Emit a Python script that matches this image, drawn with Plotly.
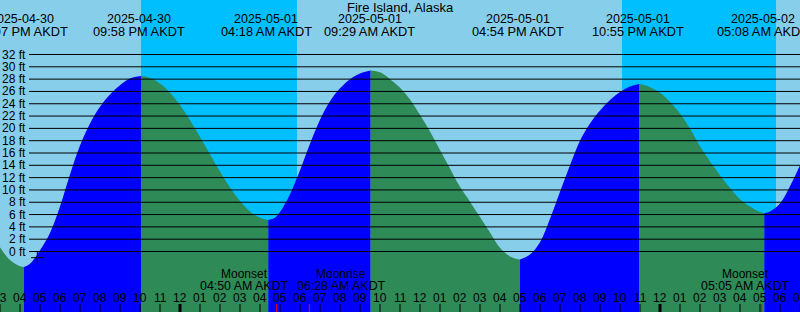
import pandas as pd
import plotly.graph_objects as go

W, H = 800, 312

# ---------------- data ----------------
station = "Fire Island, Alaska"
zone = "AKDT"

axis_start = "2025-04-30 15:00"
axis_end = "2025-05-02 07:00"

# labelled high / low tides
tide_event_times = ["2025-04-30 16:07", "2025-04-30 21:58", "2025-05-01 04:18",
                    "2025-05-01 09:29", "2025-05-01 16:54", "2025-05-01 22:55",
                    "2025-05-02 05:08"]

# tide curve (feet)
curve_times = [
    "2025-04-30 15:00", "2025-04-30 15:30", "2025-04-30 16:00", "2025-04-30 16:12",
    "2025-04-30 16:30", "2025-04-30 17:00", "2025-04-30 17:30", "2025-04-30 18:00",
    "2025-04-30 18:30", "2025-04-30 19:00", "2025-04-30 19:30", "2025-04-30 20:00",
    "2025-04-30 20:30", "2025-04-30 21:00", "2025-04-30 21:30", "2025-04-30 22:03",
    "2025-04-30 22:30", "2025-04-30 23:00", "2025-04-30 23:30", "2025-05-01 00:00",
    "2025-05-01 00:30", "2025-05-01 01:00", "2025-05-01 01:30", "2025-05-01 02:00",
    "2025-05-01 02:30", "2025-05-01 03:00", "2025-05-01 03:30", "2025-05-01 04:00",
    "2025-05-01 04:25",
    "2025-05-01 04:45", "2025-05-01 05:00", "2025-05-01 05:30", "2025-05-01 06:00",
    "2025-05-01 06:30", "2025-05-01 07:00", "2025-05-01 07:30", "2025-05-01 08:00",
    "2025-05-01 08:30", "2025-05-01 09:00", "2025-05-01 09:32",
    "2025-05-01 10:00", "2025-05-01 10:30", "2025-05-01 11:00", "2025-05-01 11:30",
    "2025-05-01 12:00", "2025-05-01 12:30", "2025-05-01 13:00", "2025-05-01 13:30",
    "2025-05-01 14:00", "2025-05-01 14:30", "2025-05-01 15:00", "2025-05-01 15:30",
    "2025-05-01 16:00", "2025-05-01 16:30", "2025-05-01 17:00",
    "2025-05-01 17:30", "2025-05-01 18:00", "2025-05-01 18:30", "2025-05-01 19:00",
    "2025-05-01 19:30", "2025-05-01 20:00", "2025-05-01 20:30", "2025-05-01 21:00",
    "2025-05-01 21:30", "2025-05-01 22:00", "2025-05-01 22:30", "2025-05-01 22:58",
    "2025-05-01 23:30", "2025-05-02 00:00", "2025-05-02 00:30", "2025-05-02 01:00",
    "2025-05-02 01:30", "2025-05-02 02:00", "2025-05-02 02:30", "2025-05-02 03:00",
    "2025-05-02 03:30", "2025-05-02 04:00", "2025-05-02 04:30", "2025-05-02 05:00",
    "2025-05-02 05:13",
    "2025-05-02 05:30", "2025-05-02 06:00", "2025-05-02 06:30", "2025-05-02 07:00",
]
curve_ft = [
    0.7, -1.4, -2.4, -2.5,
    -2.0, 0.2, 3.0, 7.3,
    12.5, 17.2, 20.8, 23.5,
    25.5, 27.0, 28.1, 28.5,
    28.2, 27.3, 25.8, 23.8,
    21.3, 18.6, 15.8, 13.0,
    10.4, 8.2, 6.5, 5.5,
    5.1,
    5.5, 6.4, 9.3, 13.2,
    17.5, 21.4, 24.4, 26.5,
    28.0, 28.9, 29.4,
    29.1, 28.0, 26.6, 24.7,
    22.2, 19.5, 16.5, 13.5,
    10.5, 8.1, 5.6, 3.1,
    0.6, -0.8, -1.3,
    -0.5, 1.5, 5.3, 9.7,
    14.0, 18.0, 20.8, 22.9,
    24.6, 25.9, 26.8, 27.2,
    26.7, 25.8, 24.3, 22.4,
    20.0, 17.1, 14.6, 12.4,
    10.3, 8.5, 7.3, 6.4,
    6.2,
    6.5, 7.8, 10.6, 14.0,
]

# where the drawn curve turns (fill switches flood/ebb colour)
turn_times = ["2025-04-30 16:12", "2025-04-30 22:03", "2025-05-01 04:25",
              "2025-05-01 09:32", "2025-05-01 17:00", "2025-05-01 22:58",
              "2025-05-02 05:13"]

night_starts = ["2025-04-30 22:03", "2025-05-01 22:06"]
night_ends = ["2025-05-01 05:51", "2025-05-02 05:48"]

moon_names = ["Moonset", "Moonrise", "Moonset"]
moon_times = ["2025-05-01 04:50", "2025-05-01 06:28", "2025-05-02 05:05"]

height_ticks = [0, 2, 4, 6, 8, 10, 12, 14, 16, 18, 20, 22, 24, 26, 28, 30, 32]

mark_time = "2025-04-30 16:52"
mark_ft = -1.0

# ---------------- style ----------------
DAY = "#87CEEB"
NIGHT = "#00BFFF"
FLOOD = "#0000FF"
EBB = "#2E8B57"
FONT = "Liberation Sans, Arial, sans-serif"
FT_TOP = 40.853
FT_BOTTOM = -9.827
moon_label_shift = [-32, 32, -16]   # px


def yp(px):
    return 1 - px / H


fig = go.Figure()

# tide fill, segment by segment
ct = pd.to_datetime(curve_times)
bounds = [pd.Timestamp(axis_start)] + list(pd.to_datetime(turn_times)) + [pd.Timestamp(axis_end)]
for a, b in zip(bounds[:-1], bounds[1:]):
    idx = [i for i, t in enumerate(ct) if a <= t <= b]
    if len(idx) < 2:
        continue
    xs = [ct[i] for i in idx]
    ys = [curve_ft[i] for i in idx]
    color = FLOOD if ys[-1] > ys[0] else EBB
    fig.add_trace(go.Scatter(x=[xs[0], xs[-1]], y=[FT_BOTTOM - 1, FT_BOTTOM - 1],
                             mode="lines", line=dict(width=0), hoverinfo="skip",
                             showlegend=False))
    fig.add_trace(go.Scatter(x=xs, y=ys, mode="lines",
                             line=dict(width=0, shape="spline", color=color),
                             fill="tonexty", fillcolor=color, hoverinfo="skip",
                             showlegend=False))

# "+" mark
fig.add_trace(go.Scatter(x=[mark_time], y=[mark_ft], mode="markers",
                         marker=dict(symbol="cross-thin", size=9,
                                     line=dict(color="black", width=1)),
                         showlegend=False, hoverinfo="skip"))

shapes = []
# night bands
for s, e in zip(night_starts, night_ends):
    shapes.append(dict(type="rect", xref="x", yref="paper", x0=s, x1=e, y0=0, y1=1,
                       fillcolor=NIGHT, line=dict(width=0), layer="below"))
# height grid lines
for h in height_ticks:
    shapes.append(dict(type="line", xref="paper", yref="y", x0=29 / W, x1=1, y0=h, y1=h,
                       line=dict(color="black", width=1), layer="above"))

annotations = []
for h in height_ticks:
    annotations.append(dict(x=28 / W, xref="paper", y=h, yref="y", xanchor="right",
                            yanchor="middle", text=f"{h} ft", showarrow=False,
                            font=dict(family=FONT, size=12, color="black")))

# hour ticks and labels
hours = pd.date_range(axis_start, axis_end, freq="h")
for t in hours:
    shapes.append(dict(type="line", xref="x", yref="paper", x0=t, x1=t, y0=0, y1=8 / H,
                       line=dict(color="black", width=3 if t.hour == 0 else 1)))
    lab = f"{(t.hour % 12) or 12:02d}"
    annotations.append(dict(x=t, xref="x", y=yp(297.5), yref="paper", text=lab,
                            showarrow=False, xanchor="center", yanchor="middle",
                            font=dict(family=FONT, size=12, color="black")))

# moon events
for name, t, dx in zip(moon_names, moon_times, moon_label_shift):
    shapes.append(dict(type="line", xref="x", yref="paper", x0=t, x1=t, y0=0, y1=8 / H,
                       line=dict(color="red", width=1)))
    tt = pd.Timestamp(t)
    annotations.append(dict(x=t, xref="x", xshift=dx, y=yp(274.1), yref="paper",
                            text=name, showarrow=False, xanchor="center", yanchor="middle",
                            font=dict(family=FONT, size=12, color="black")))
    annotations.append(dict(x=t, xref="x", xshift=dx, y=yp(285.8), yref="paper",
                            text=tt.strftime("%I:%M %p ") + zone, showarrow=False,
                            xanchor="center", yanchor="middle",
                            font=dict(family=FONT, size=12.4, color="black")))

# tide event labels on top
for t in tide_event_times:
    tt = pd.Timestamp(t)
    annotations.append(dict(x=t, xref="x", y=yp(19.1), yref="paper",
                            text=tt.strftime("%Y-%m-%d"), showarrow=False,
                            xanchor="center", yanchor="middle",
                            font=dict(family=FONT, size=12.5, color="black")))
    annotations.append(dict(x=t, xref="x", y=yp(31.8), yref="paper",
                            text=tt.strftime("%I:%M %p ") + zone, showarrow=False,
                            xanchor="center", yanchor="middle",
                            font=dict(family=FONT, size=12.8, color="black")))

annotations.append(dict(x=0.5, xref="paper", y=yp(7.5), yref="paper", text=station,
                        showarrow=False, xanchor="center", yanchor="middle",
                        font=dict(family=FONT, size=13, color="black")))

fig.update_layout(
    width=W, height=H,
    margin=dict(l=0, r=0, t=0, b=0),
    paper_bgcolor=DAY, plot_bgcolor=DAY,
    showlegend=False,
    xaxis=dict(type="date", range=[axis_start, axis_end], visible=False, fixedrange=True),
    yaxis=dict(range=[FT_BOTTOM, FT_TOP], visible=False, fixedrange=True),
    shapes=shapes,
    annotations=annotations,
)

fig.write_html("out.html", config={"displayModeBar": False})
